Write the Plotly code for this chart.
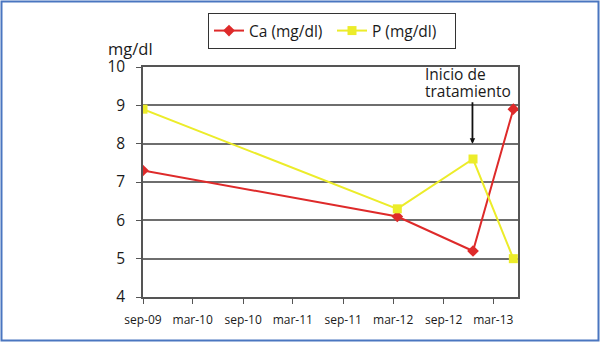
import plotly.graph_objects as go

dates = ["2009-09-01", "2012-03-16", "2012-12-17", "2013-05-13"]
ca = [7.3, 6.1, 5.2, 8.9]
p = [8.9, 6.3, 7.6, 5.0]
tick_dates = ["2009-09-01", "2010-03-01", "2010-09-01", "2011-03-01",
              "2011-09-01", "2012-03-01", "2012-09-01", "2013-03-01"]
tick_labels = ["sep-09", "mar-10", "sep-10", "mar-11", "sep-11", "mar-12", "sep-12", "mar-13"]
treatment_date = "2012-12-15"

FONT = "Open Sans"
fig = go.Figure()
fig.add_trace(go.Scatter(x=dates, y=ca, mode="lines+markers", name="Ca (mg/dl)",
                         line=dict(color="#de2a2a", width=2),
                         marker=dict(symbol="diamond", size=9, color="#de2a2a")))
fig.add_trace(go.Scatter(x=dates, y=p, mode="lines+markers", name="P (mg/dl)",
                         line=dict(color="#ecec2a", width=2),
                         marker=dict(symbol="square", size=9, color="#ecec2a")))

L, R, T, B = 143, 82, 67, 45
W, H = 600 - L - R, 342 - T - B

def px(xp):
    return (xp - L) / W

def py(yp):
    return (342 - B - yp) / H

fig.update_layout(
    width=600, height=342,
    margin=dict(l=L, r=R, t=T, b=B),
    paper_bgcolor="white", plot_bgcolor="white",
    font=dict(family=FONT, color="#1a1a1a", size=14),
    showlegend=True,
    legend=dict(orientation="h", x=px(208), y=py(13), xanchor="left", yanchor="top",
                bordercolor="#333333", borderwidth=1, font=dict(size=15.5),
                bgcolor="white", itemwidth=30, entrywidth=78, entrywidthmode="pixels"),
    xaxis=dict(type="date", range=["2009-09-01", "2013-05-30"],
               tickvals=tick_dates, ticktext=tick_labels,
               showgrid=False, showline=True, linecolor="#555555", linewidth=1.5,
               mirror=True, ticks="outside", ticklen=5, tickcolor="#555555",
               ticklabelstandoff=6,
               tickfont=dict(size=12, color="#1a1a1a"), zeroline=False),
    yaxis=dict(range=[4, 10], dtick=1, showgrid=True, gridcolor="#6e6e6e", gridwidth=1.5,
               showline=True, linecolor="#555555", linewidth=1.5, mirror=True,
               ticks="outside", ticklen=5, tickcolor="#555555", ticklabelstandoff=8,
               tickfont=dict(size=15.5, color="#1a1a1a"), zeroline=False),
    shapes=[dict(type="rect", xref="paper", yref="paper",
                 x0=px(1.5), x1=px(598.5), y0=py(340.5), y1=py(1.5),
                 line=dict(color="#4a76c0", width=2), layer="below")],
    annotations=[
        dict(text="mg/dl", xref="paper", yref="paper", x=px(106), y=py(48),
             xanchor="left", yanchor="middle", showarrow=False, font=dict(size=16.5)),
        dict(x=treatment_date, y=8.0, xref="x", yref="y", text="", showarrow=True,
             ax=0, ay=-43, arrowhead=2, arrowsize=0.6, arrowwidth=1.8, arrowcolor="#111111"),
        dict(text="Inicio de", xref="paper", yref="paper",
             x=px(423), y=py(74), xanchor="left", yanchor="middle", align="left",
             showarrow=False, font=dict(size=15.5)),
        dict(text="tratamiento", xref="paper", yref="paper",
             x=px(423), y=py(91), xanchor="left", yanchor="middle", align="left",
             showarrow=False, font=dict(size=15.5)),
    ],
)

fig.write_html("out.html", config={"displayModeBar": False},
               post_script="document.body.style.margin='0px';")
